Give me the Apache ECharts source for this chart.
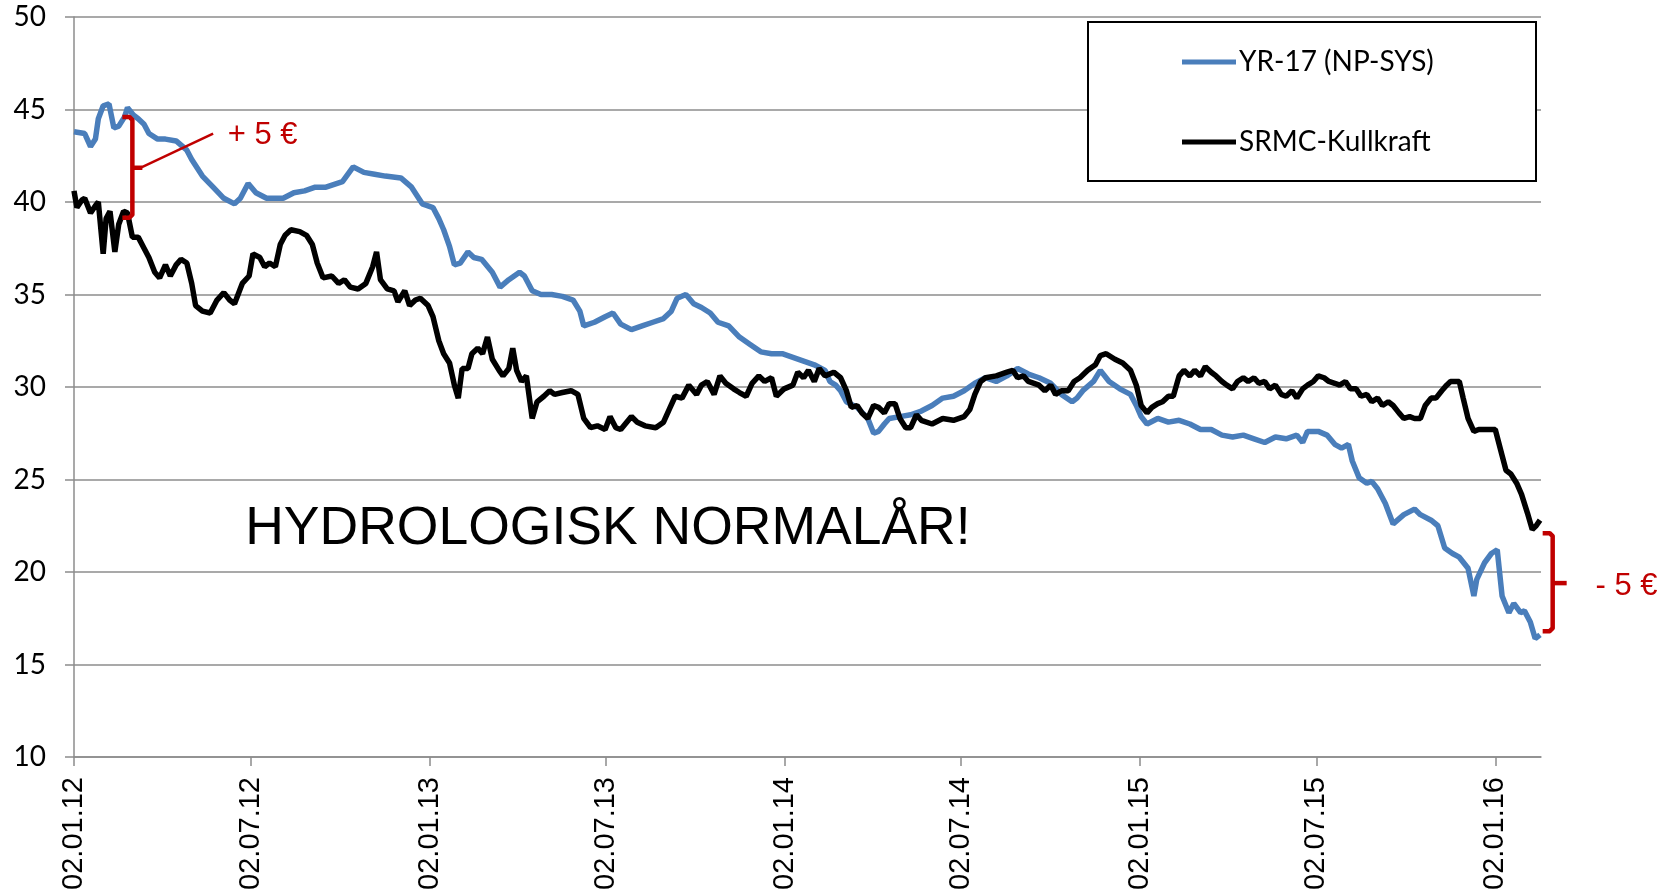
<!DOCTYPE html>
<html><head><meta charset="utf-8">
<script src="https://cdn.jsdelivr.net/npm/echarts@6/dist/echarts.min.js"></script>
<style>html,body{margin:0;padding:0;background:#fff}#c{width:1680px;height:895px}</style>
</head><body><div id="c"></div>
<script>
// ---------- data ----------
const startDate = [2012, 0, 2];           // 02.01.12, day 0
const axisEndDay = 1508;
const tickLabels = ['02.01.12','02.07.12','02.01.13','02.07.13','02.01.14','02.07.14','02.01.15','02.07.15','02.01.16'];
const yMin = 10, yMax = 50, yStep = 5;
const seriesNames = ['YR-17 (NP-SYS)', 'SRMC-Kullkraft'];

// YR-17 (NP-SYS): days since 02.01.12, value
const blueDays = [0,11,17,22,25,30,36,41,46,52,55,61,66,72,77,86,94,105,116,121,132,143,154,165,171,179,187,198,215,226,237,248,259,276,287,298,309,320,336,347,358,369,375,380,386,391,397,405,411,419,430,438,447,458,463,471,480,491,502,513,520,524,535,546,554,562,573,584,595,606,614,620,629,637,645,654,662,673,684,695,706,717,728,739,750,761,772,777,783,788,794,805,816,822,827,833,838,849,860,871,882,893,904,915,926,937,948,959,970,981,992,1004,1015,1026,1031,1037,1048,1055,1064,1075,1086,1092,1097,1103,1114,1125,1136,1147,1158,1169,1180,1191,1202,1213,1224,1235,1246,1257,1263,1268,1279,1288,1296,1303,1310,1314,1321,1329,1334,1340,1348,1356,1367,1378,1384,1395,1402,1409,1417,1424,1433,1439,1442,1450,1457,1463,1468,1475,1480,1487,1491,1497,1502,1507];
const blueVals = [43.8,43.7,43.0,43.4,44.5,45.2,45.3,44.0,44.1,44.6,45.1,44.7,44.5,44.2,43.7,43.4,43.4,43.3,42.8,42.3,41.4,40.8,40.2,39.9,40.2,41.0,40.5,40.2,40.2,40.5,40.6,40.8,40.8,41.1,41.9,41.6,41.5,41.4,41.3,40.8,39.9,39.7,39.1,38.5,37.6,36.6,36.7,37.3,37.0,36.9,36.2,35.4,35.8,36.2,36.0,35.2,35.0,35.0,34.9,34.7,34.1,33.3,33.5,33.8,34.0,33.4,33.1,33.3,33.5,33.7,34.1,34.8,35.0,34.5,34.3,34.0,33.5,33.3,32.7,32.3,31.9,31.8,31.8,31.6,31.4,31.2,30.9,30.3,30.1,29.8,29.2,28.9,28.3,27.5,27.6,28.0,28.3,28.4,28.5,28.7,29.0,29.4,29.5,29.8,30.2,30.5,30.3,30.6,31.0,30.7,30.5,30.2,29.6,29.2,29.4,29.8,30.3,30.9,30.3,29.9,29.6,29.0,28.4,28.0,28.3,28.1,28.2,28.0,27.7,27.7,27.4,27.3,27.4,27.2,27.0,27.3,27.2,27.4,27.0,27.6,27.6,27.4,26.9,26.7,26.9,26.0,25.1,24.8,24.9,24.5,23.7,22.6,23.1,23.4,23.1,22.8,22.5,21.3,21.0,20.8,20.2,18.7,19.6,20.5,21.0,21.2,18.7,17.8,18.3,17.8,17.9,17.3,16.4,16.6];

// SRMC-Kullkraft
const blackDays = [0,3,8,11,17,22,25,30,33,37,42,46,51,55,60,66,72,77,83,88,94,99,105,110,116,121,125,132,140,147,154,160,165,173,180,184,191,196,201,207,212,217,223,232,239,245,250,256,265,272,278,284,292,300,307,311,315,322,329,333,340,345,351,356,364,369,375,380,386,391,395,399,405,409,415,420,425,430,437,441,447,451,455,460,465,471,476,483,489,494,502,511,518,524,531,538,546,551,557,562,573,579,587,598,606,612,618,625,632,640,645,651,658,664,670,678,684,691,697,704,710,717,722,730,739,744,750,755,761,766,772,781,788,794,799,805,810,816,822,827,833,838,844,849,855,860,866,871,882,893,904,915,921,926,932,937,948,959,965,970,976,981,992,998,1004,1009,1015,1022,1028,1034,1042,1050,1055,1061,1070,1078,1086,1092,1097,1103,1108,1114,1119,1125,1130,1136,1141,1147,1152,1158,1163,1169,1174,1180,1185,1191,1196,1202,1207,1213,1218,1224,1229,1235,1241,1246,1252,1257,1263,1268,1274,1279,1285,1290,1296,1301,1307,1312,1318,1323,1329,1334,1340,1345,1351,1356,1362,1367,1373,1378,1384,1389,1395,1400,1406,1411,1415,1418,1424,1428,1433,1439,1444,1450,1455,1461,1463,1468,1472,1477,1483,1488,1494,1499,1503,1507];
const blackVals = [40.6,39.7,40.1,40.2,39.4,39.8,40.0,37.2,39.1,39.5,37.3,38.8,39.5,39.4,38.1,38.1,37.5,37.0,36.2,35.9,36.6,36.0,36.6,36.9,36.7,35.6,34.4,34.1,34.0,34.7,35.1,34.7,34.5,35.6,36.0,37.2,37.0,36.5,36.7,36.5,37.7,38.2,38.5,38.4,38.2,37.7,36.7,35.9,36.0,35.6,35.8,35.4,35.3,35.6,36.5,37.3,35.8,35.3,35.2,34.6,35.2,34.4,34.7,34.8,34.4,33.8,32.5,31.8,31.3,30.1,29.4,31.0,31.0,31.8,32.1,31.8,32.7,31.5,30.9,30.6,31.0,32.1,30.9,30.3,30.6,28.3,29.2,29.5,29.8,29.6,29.7,29.8,29.6,28.3,27.8,27.9,27.7,28.4,27.8,27.7,28.4,28.1,27.9,27.8,28.1,28.8,29.5,29.4,30.1,29.6,30.1,30.3,29.6,30.6,30.2,29.9,29.7,29.5,30.2,30.6,30.3,30.5,29.5,29.9,30.1,30.8,30.5,30.9,30.3,31.0,30.6,30.8,30.5,29.8,28.9,29.0,28.6,28.3,29.0,28.9,28.6,29.1,29.1,28.3,27.8,27.8,28.5,28.2,28.0,28.3,28.2,28.4,28.8,29.6,30.3,30.5,30.6,30.8,30.9,30.5,30.6,30.3,30.1,29.8,30.1,29.6,29.8,29.8,30.3,30.5,30.9,31.2,31.7,31.8,31.5,31.3,30.9,30.1,29.0,28.6,28.9,29.1,29.2,29.5,29.5,30.6,30.9,30.6,30.9,30.6,31.1,30.8,30.6,30.3,30.1,29.9,30.3,30.5,30.3,30.5,30.2,30.3,29.9,30.1,29.6,29.5,29.8,29.4,29.9,30.1,30.3,30.6,30.5,30.3,30.2,30.1,30.3,29.9,29.9,29.5,29.6,29.2,29.4,29.0,29.2,29.0,28.6,28.3,28.4,28.3,28.3,29.0,29.4,29.4,29.8,30.1,30.3,30.3,30.3,29.4,28.3,27.6,27.7,27.7,27.7,27.7,27.6,26.3,25.5,25.3,24.8,24.2,23.2,22.3,22.5,22.8];

// annotations (data coordinates: day, value)
const annoMain = {text: 'HYDROLOGISK NORMALÅR!', day: 176, value: 22.3};
const bracketLeft  = {day: 60,   top: 44.6, bottom: 39.15, mid: 41.85, pointDay: 143, pointValue: 43.7, textDay: 158, textValue: 43.6, text: '+ 5 €'};
const bracketRight = {day: 1520, top: 22.1, bottom: 16.8,  mid: 19.4,  textDay: 1564, textValue: 19.2, text: '- 5 €'};

// ---------- build ----------
const DAY = 86400000;
const t0 = Date.UTC(startDate[0], startDate[1], startDate[2]);
const tickDays = tickLabels.map(s => { const p = s.split('.'); return Math.round((Date.UTC(2000 + (+p[2]), (+p[1]) - 1, +p[0]) - t0) / DAY); });
const labelFor = v => { let best = 0, bd = Infinity; tickDays.forEach((t, i) => { const d = Math.abs(t - v); if (d < bd) { bd = d; best = i; } }); return tickLabels[best]; };
const blueData = blueDays.map((d, i) => [d, blueVals[i]]);
const blackData = blackDays.map((d, i) => [d, blackVals[i]]);

const RED = '#c00000';
const chart = echarts.init(document.getElementById('c'), null, {renderer: 'canvas'});

function renderAnno(params, api) {
  const ch = [];
  const m = api.coord([annoMain.day, annoMain.value]);
  ch.push({type: 'text', style: {text: annoMain.text, x: m[0], y: m[1], fill: '#000', font: '53.5px "Liberation Sans", Arial, sans-serif', verticalAlign: 'middle', align: 'left'}});
  [bracketLeft, bracketRight].forEach(b => {
    const top = api.coord([b.day, b.top]);
    const bot = api.coord([b.day, b.bottom]);
    const mid = api.coord([b.day, b.mid]);
    const x = top[0];
    ch.push({type: 'polyline', shape: {points: [[x - 10, top[1]], [x - 3, top[1]], [x, top[1] + 3], [x, bot[1] - 3], [x - 3, bot[1]], [x - 10, bot[1]]]},
      style: {stroke: RED, lineWidth: 4.5, fill: null, lineJoin: 'round', lineCap: 'butt'}});
    const tickLen = b === bracketRight ? 14 : 10;
    ch.push({type: 'line', shape: {x1: x, y1: mid[1], x2: x + tickLen, y2: mid[1]}, style: {stroke: RED, lineWidth: 4.5}});
    if (b.pointDay !== undefined) {
      const p = api.coord([b.pointDay, b.pointValue]);
      ch.push({type: 'line', shape: {x1: x + tickLen - 2, y1: mid[1], x2: p[0], y2: p[1]}, style: {stroke: RED, lineWidth: 2.5}});
    }
    const tp = api.coord([b.textDay, b.textValue]);
    ch.push({type: 'text', style: {text: b.text, x: tp[0], y: tp[1], fill: RED, font: '31px "Liberation Sans", Arial, sans-serif', verticalAlign: 'middle', align: 'left'}});
  });
  return {type: 'group', children: ch};
}

const axisGrey = '#8c8c8c';
chart.setOption({
  animation: false,
  backgroundColor: '#fff',
  grid: {left: 74, right: 139, top: 17, bottom: 138, containLabel: false},
  xAxis: {
    type: 'value', min: 0, max: axisEndDay,
    axisLine: {lineStyle: {color: axisGrey, width: 1.5}},
    axisTick: {show: true, length: 9, lineStyle: {color: axisGrey, width: 1.5}, customValues: tickDays},
    axisLabel: {customValues: tickDays, rotate: 90, margin: 20, color: '#000', fontSize: 29, fontFamily: '"Liberation Sans", Arial, sans-serif', formatter: v => labelFor(v), hideOverlap: false, showMinLabel: true, showMaxLabel: true},
    splitLine: {show: false}
  },
  yAxis: {
    type: 'value', min: yMin, max: yMax, interval: yStep,
    axisLine: {show: true, lineStyle: {color: axisGrey, width: 1.5}},
    axisTick: {show: true, length: 9, lineStyle: {color: axisGrey, width: 1.5}},
    axisLabel: {margin: 28, color: '#000', fontSize: 28, fontFamily: 'Lato, "Open Sans", sans-serif'},
    splitLine: {lineStyle: {color: axisGrey, width: 1.5}}
  },
  legend: {
    data: seriesNames, orient: 'vertical', left: 1182, top: 48, itemGap: 52,
    icon: 'rect', itemWidth: 54, itemHeight: 5, selectedMode: false, padding: 0,
    textStyle: {color: '#000', fontSize: 28, fontFamily: 'Lato, "Open Sans", sans-serif', padding: [0, 0, 0, -2]}
  },
  graphic: {elements: [{type: 'rect', z: 3, shape: {x: 1088, y: 22, width: 448, height: 159}, style: {fill: '#fff', stroke: '#000', lineWidth: 2}}]},
  series: [
    {name: seriesNames[0], type: 'line', data: blueData, showSymbol: false, color: '#4a7ebb', lineStyle: {width: 5.5, color: '#4a7ebb'}, z: 2},
    {name: seriesNames[1], type: 'line', data: blackData, showSymbol: false, color: '#000', lineStyle: {width: 5.5, color: '#000'}, z: 3},
    {type: 'custom', silent: true, clip: false, z: 6, data: [[0, 30]], renderItem: renderAnno}
  ]
});
</script></body></html>
